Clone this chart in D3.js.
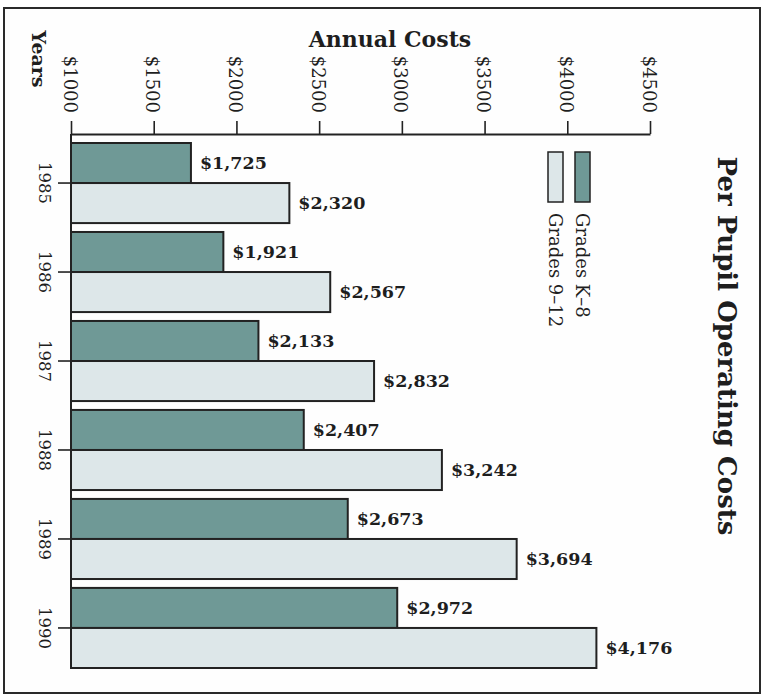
<!DOCTYPE html>
<html>
<head>
<meta charset="utf-8">
<script src="https://cdn.jsdelivr.net/npm/d3@7"></script>
<style>
  html, body { margin: 0; padding: 0; background: #ffffff; }
  svg { display: block; }
  text { font-family: "DejaVu Serif", "Liberation Serif", serif; fill: #1e1e1e; }
</style>
</head>
<body>
<svg id="chart" width="770" height="699"></svg>
<script>
// ---- data ----
const years = ["1985", "1986", "1987", "1988", "1989", "1990"];
const seriesNames = ["Grades K\u20138", "Grades 9\u201312"];
const gradesK8 = [1725, 1921, 2133, 2407, 2673, 2972];
const grades912 = [2320, 2567, 2832, 3242, 3694, 4176];
const tickValues = [1000, 1500, 2000, 2500, 3000, 3500, 4000, 4500];
const title = "Per Pupil Operating Costs";
const xTitle = "Annual Costs";
const yTitle = "Years";

const colors = ["#6f9996", "#dde7e9"];
const stroke = "#222";

const svg = d3.select("#chart");

// frame
svg.append("rect")
  .attr("x", 4).attr("y", 8).attr("width", 756).attr("height", 685)
  .attr("fill", "#fefefe").attr("stroke", "#2a2a2a").attr("stroke-width", 2);

const axisY = 134;
const x = d3.scaleLinear().domain([1000, 4500]).range([71, 650]);
const y = d3.scaleBand().domain(years).range([143, 668]).paddingInner(0.1).paddingOuter(0);
const ySub = d3.scaleBand().domain(seriesNames).range([0, y.bandwidth()]);

const rows = years.map((yr, i) => ({ year: yr, values: [gradesK8[i], grades912[i]] }));

// bars
const groups = svg.append("g").selectAll("g").data(rows).join("g")
  .attr("transform", d => `translate(0,${y(d.year)})`);

groups.selectAll("rect").data(d => d.values.map((v, k) => ({ v, k })))
  .join("rect")
  .attr("x", x(1000))
  .attr("y", d => ySub(seriesNames[d.k]))
  .attr("width", d => x(d.v) - x(1000))
  .attr("height", ySub.bandwidth())
  .attr("fill", d => colors[d.k])
  .attr("stroke", stroke).attr("stroke-width", 2);

groups.selectAll("text.val").data(d => d.values.map((v, k) => ({ v, k })))
  .join("text").attr("class", "val")
  .attr("x", d => x(d.v) + 9)
  .attr("y", d => ySub(seriesNames[d.k]) + ySub.bandwidth() / 2 + 6)
  .attr("font-size", 17.5).attr("font-weight", "bold")
  .text(d => "$" + d3.format(",")(d.v));

// top axis
const xAxis = d3.axisTop(x).tickValues(tickValues).tickSize(13).tickSizeOuter(0)
  .tickFormat(d => "$" + d);
const gx = svg.append("g").attr("transform", `translate(0,${axisY})`).call(xAxis);
gx.select(".domain").attr("stroke", stroke).attr("stroke-width", 2.2);
gx.selectAll(".tick line").attr("stroke", stroke).attr("stroke-width", 1.6);
gx.selectAll(".tick text")
  .attr("x", null).attr("y", null).attr("dy", null)
  .attr("transform", "translate(-8,-21) rotate(90)")
  .attr("text-anchor", "end")
  .attr("font-size", 18)
  .attr("font-family", "DejaVu Serif")
  .attr("fill", "#1a1a1a");

// left axis line
svg.append("line").attr("x1", x(1000)).attr("x2", x(1000))
  .attr("y1", axisY).attr("y2", 669)
  .attr("stroke", stroke).attr("stroke-width", 2);

// year axis
const yAxis = d3.axisLeft(y).tickSize(13).tickSizeOuter(0);
const gy = svg.append("g").attr("transform", `translate(${x(1000)},0)`).call(yAxis);
gy.select(".domain").remove();
gy.selectAll(".tick line").attr("stroke", stroke).attr("stroke-width", 1.6);
gy.selectAll(".tick text")
  .attr("x", null).attr("y", null).attr("dy", null)
  .attr("transform", "translate(-32,0) rotate(90)")
  .attr("text-anchor", "middle")
  .attr("font-size", 16.5)
  .attr("font-family", "DejaVu Serif")
  .attr("fill", "#2a2a2a");

// axis titles
svg.append("text").attr("x", 390).attr("y", 47)
  .attr("text-anchor", "middle").attr("font-size", 22).attr("font-weight", "bold")
  .text(xTitle);
svg.append("text").attr("transform", "translate(32,59) rotate(90)")
  .attr("text-anchor", "middle").attr("font-size", 19).attr("font-weight", "bold")
  .text(yTitle);

// chart title
svg.append("text").attr("transform", "translate(718,346) rotate(90)")
  .attr("text-anchor", "middle").attr("font-size", 26).attr("font-weight", "bold")
  .text(title);

// legend
const legendX = [576, 549];
const lg = svg.append("g").selectAll("g").data(seriesNames).join("g");
lg.append("rect")
  .attr("x", (d, i) => legendX[i] - 1).attr("y", 152)
  .attr("width", 15).attr("height", 50)
  .attr("fill", (d, i) => colors[i]).attr("stroke", stroke).attr("stroke-width", 1.5);
lg.append("text")
  .attr("transform", (d, i) => `translate(${legendX[i]},213) rotate(90)`)
  .attr("text-anchor", "start").attr("font-size", 18)
  .text(d => d);
</script>
</body>
</html>
